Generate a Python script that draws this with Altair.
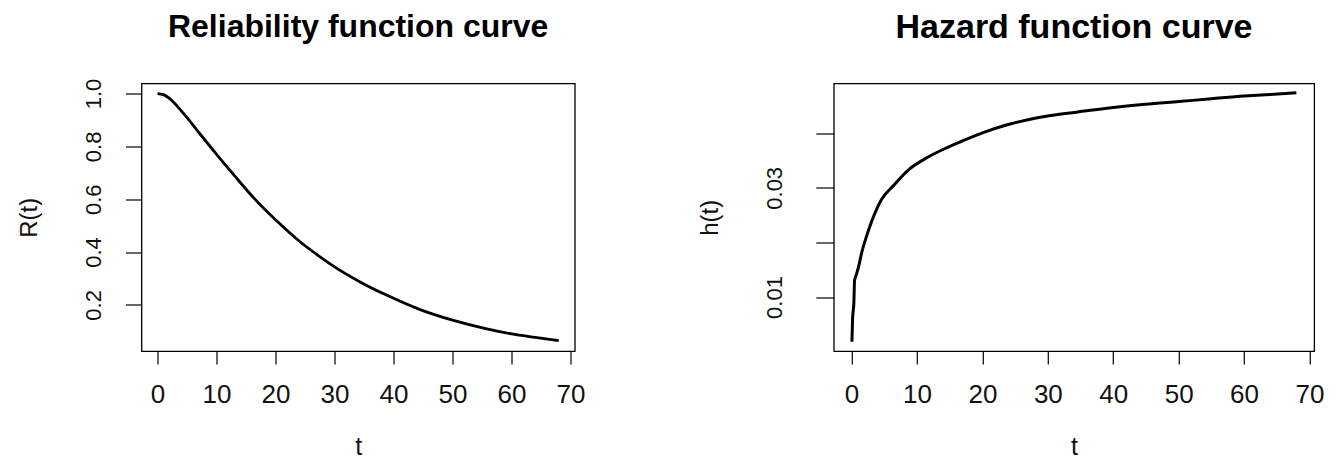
import altair as alt
import pandas as pd

# ---- data ----
t_rel = [0, 1, 2, 4.5, 6.8, 10, 13, 16.3, 20, 24.2, 27.6, 30, 34.4, 38.9, 44.5, 50, 55.8, 60, 64, 68]
r_vals = [1.000, 0.996, 0.982, 0.922, 0.858, 0.770, 0.690, 0.605, 0.522, 0.438, 0.381, 0.344,
          0.286, 0.236, 0.182, 0.142, 0.109, 0.090, 0.077, 0.065]

t_haz = [0.05, 0.15, 0.25, 0.35, 0.45, 0.75, 1.1, 1.5, 2.3, 3.05, 4.6, 6.4, 8.7, 11.2, 14.3,
         16.8, 20.1, 23.4, 27.5, 30.2, 34.6, 40, 44.9, 50, 55, 60, 64, 68]
h_vals = [0.0018, 0.0060, 0.0075, 0.0090, 0.0130, 0.0142, 0.0157, 0.0179, 0.0212, 0.0238, 0.0279,
          0.0304, 0.0333, 0.0353, 0.0372, 0.0385, 0.0401, 0.0414, 0.0426, 0.0432, 0.0439, 0.0447,
          0.0453, 0.0458, 0.0463, 0.0468, 0.0471, 0.0474]

x_ticks = [0, 10, 20, 30, 40, 50, 60, 70]
r_ticks = [0.2, 0.4, 0.6, 0.8, 1.0]
h_ticks = [0.01, 0.02, 0.03, 0.04]
h_labeled = [0.01, 0.03]

titles = ["Reliability function curve", "Hazard function curve"]

FONT = "Liberation Sans"
TXT = "#111111"
H = 267.6
W_LEFT = 433.3
W_RIGHT = 480.4

df_r = pd.DataFrame({"t": t_rel, "R": r_vals})
df_h = pd.DataFrame({"t": t_haz, "h": h_vals})

xdom = [-2.72, 70.72]


def x_axis():
    return alt.Axis(values=x_ticks, title="t", domain=False, grid=False,
                    tickSize=13, tickColor="black", tickWidth=1.2,
                    labelFont=FONT, labelFontSize=26, labelColor=TXT,
                    labelPadding=38, labelBaseline="alphabetic", labelAngle=0,
                    labelFlush=False, labelOverlap=False,
                    titleFont=FONT, titleFontSize=25, titleFontWeight="normal",
                    titleColor=TXT, titleBaseline="alphabetic", titleY=103)


def y_axis(values, title, tick, pad, title_x, **kw):
    return alt.Axis(values=values, title=title, domain=False, grid=False,
                    tickSize=tick, tickColor="black", tickWidth=1.2,
                    labelFont=FONT, labelFontSize=22, labelColor=TXT,
                    labelAngle=270, labelAlign="center", labelBaseline="alphabetic",
                    labelPadding=pad, labelFlush=False, labelOverlap=False,
                    titleFont=FONT, titleFontSize=24, titleFontWeight="normal",
                    titleColor=TXT, titleAngle=270, titleAlign="center",
                    titleBaseline="alphabetic", titleX=title_x, titleY=H / 2, **kw)


def title_layer(txt, width, size, ypos):
    return alt.Chart(pd.DataFrame({"label": [txt]})).mark_text(
        font=FONT, fontSize=size, fontWeight="bold", color="black",
        align="center", baseline="alphabetic"
    ).encode(x=alt.value(width / 2), y=alt.value(ypos), text="label:N")


label_expr = " || ".join([f"abs(datum.value - {v}) < 1e-9" for v in h_labeled])

left_line = alt.Chart(df_r).mark_line(
    color="black", strokeWidth=2.8, interpolate="monotone"
).encode(
    x=alt.X("t:Q", scale=alt.Scale(domain=xdom, nice=False, zero=False), axis=x_axis()),
    y=alt.Y("R:Q", scale=alt.Scale(domain=[0.025, 1.038], nice=False, zero=False),
            axis=y_axis(r_ticks, "R(t)", 16, 25, -105, format=".1f")),
)
left = alt.layer(left_line, title_layer(titles[0], W_LEFT, 32, -46.6)).properties(
    width=W_LEFT, height=H)

right_line = alt.Chart(df_h).mark_line(
    color="black", strokeWidth=3, interpolate="monotone"
).encode(
    x=alt.X("t:Q", scale=alt.Scale(domain=xdom, nice=False, zero=False), axis=x_axis()),
    y=alt.Y("h:Q", scale=alt.Scale(domain=[0.0001, 0.0491], nice=False, zero=False),
            axis=y_axis(h_ticks, "h(t)", 18, 34, -116,
                        labelExpr=f"({label_expr}) ? format(datum.value, '.2f') : ''")),
)
right = alt.layer(right_line, title_layer(titles[1], W_RIGHT, 34, -45)).properties(
    width=W_RIGHT, height=H)

chart = alt.hconcat(left, right, spacing=258.3, bounds="flush").properties(
    padding={"left": 8.5, "top": 1.5, "right": 0, "bottom": 0},
    background="white",
).configure_view(stroke="black", strokeWidth=1.3)

chart.save("out.html", embed_options={"renderer": "svg", "actions": False})
